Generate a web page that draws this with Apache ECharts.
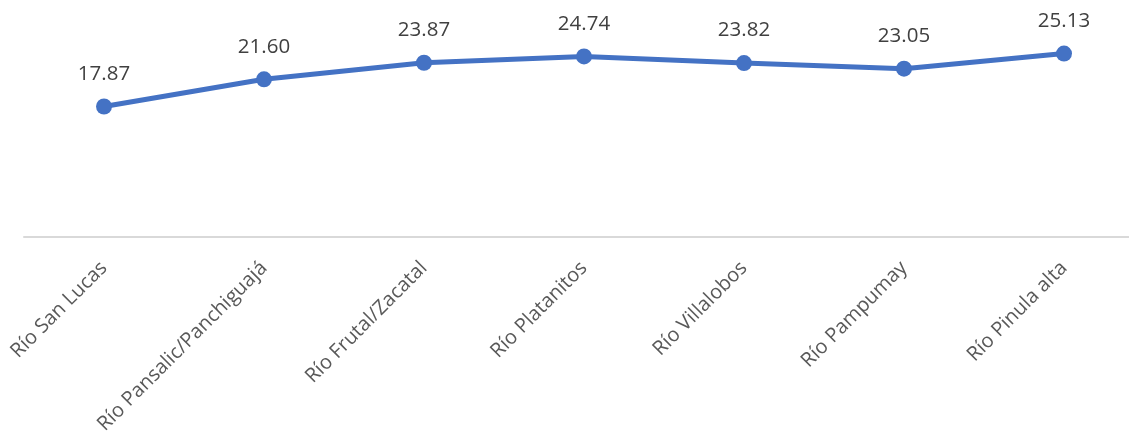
<!DOCTYPE html>
<html><head><meta charset="utf-8">
<script src="https://cdn.jsdelivr.net/npm/echarts@6/dist/echarts.min.js"></script>
<style>html,body{margin:0;padding:0;background:#fff;overflow:hidden;width:1129px;height:437px}#c{width:1150px;height:437px}</style>
</head><body><div id="c"></div>
<script>
const categories = ["Río San Lucas","Río Pansalic/Panchiguajá","Río Frutal/Zacatal","Río Platanitos","Río Villalobos","Río Pampumay","Río Pinula alta"];
const values = [17.87,21.60,23.87,24.74,23.82,23.05,25.13];
const chart = echarts.init(document.getElementById('c'));
chart.setOption({
  animation:false,
  grid:{left:24, top:18, width:1120, height:219, containLabel:false},
  xAxis:{type:'category', data:categories, boundaryGap:true,
    axisLine:{lineStyle:{color:'#d9d9d9', width:2}},
    axisTick:{show:false},
    axisLabel:{rotate:45, color:'#595959', fontSize:20, fontFamily:'Open Sans', margin:28, interval:0}},
  yAxis:{type:'value', min:0, max:30, show:false, splitLine:{show:false}},
  series:[{type:'line', data:values, symbol:'circle', symbolSize:16,
    lineStyle:{color:'#4472C4', width:5}, itemStyle:{color:'#4472C4'},
    label:{show:true, position:'top', distance:14, color:'#404040', fontSize:20.5, fontFamily:'Open Sans',
      formatter:p=>p.value.toFixed(2)}}]
});
</script></body></html>
